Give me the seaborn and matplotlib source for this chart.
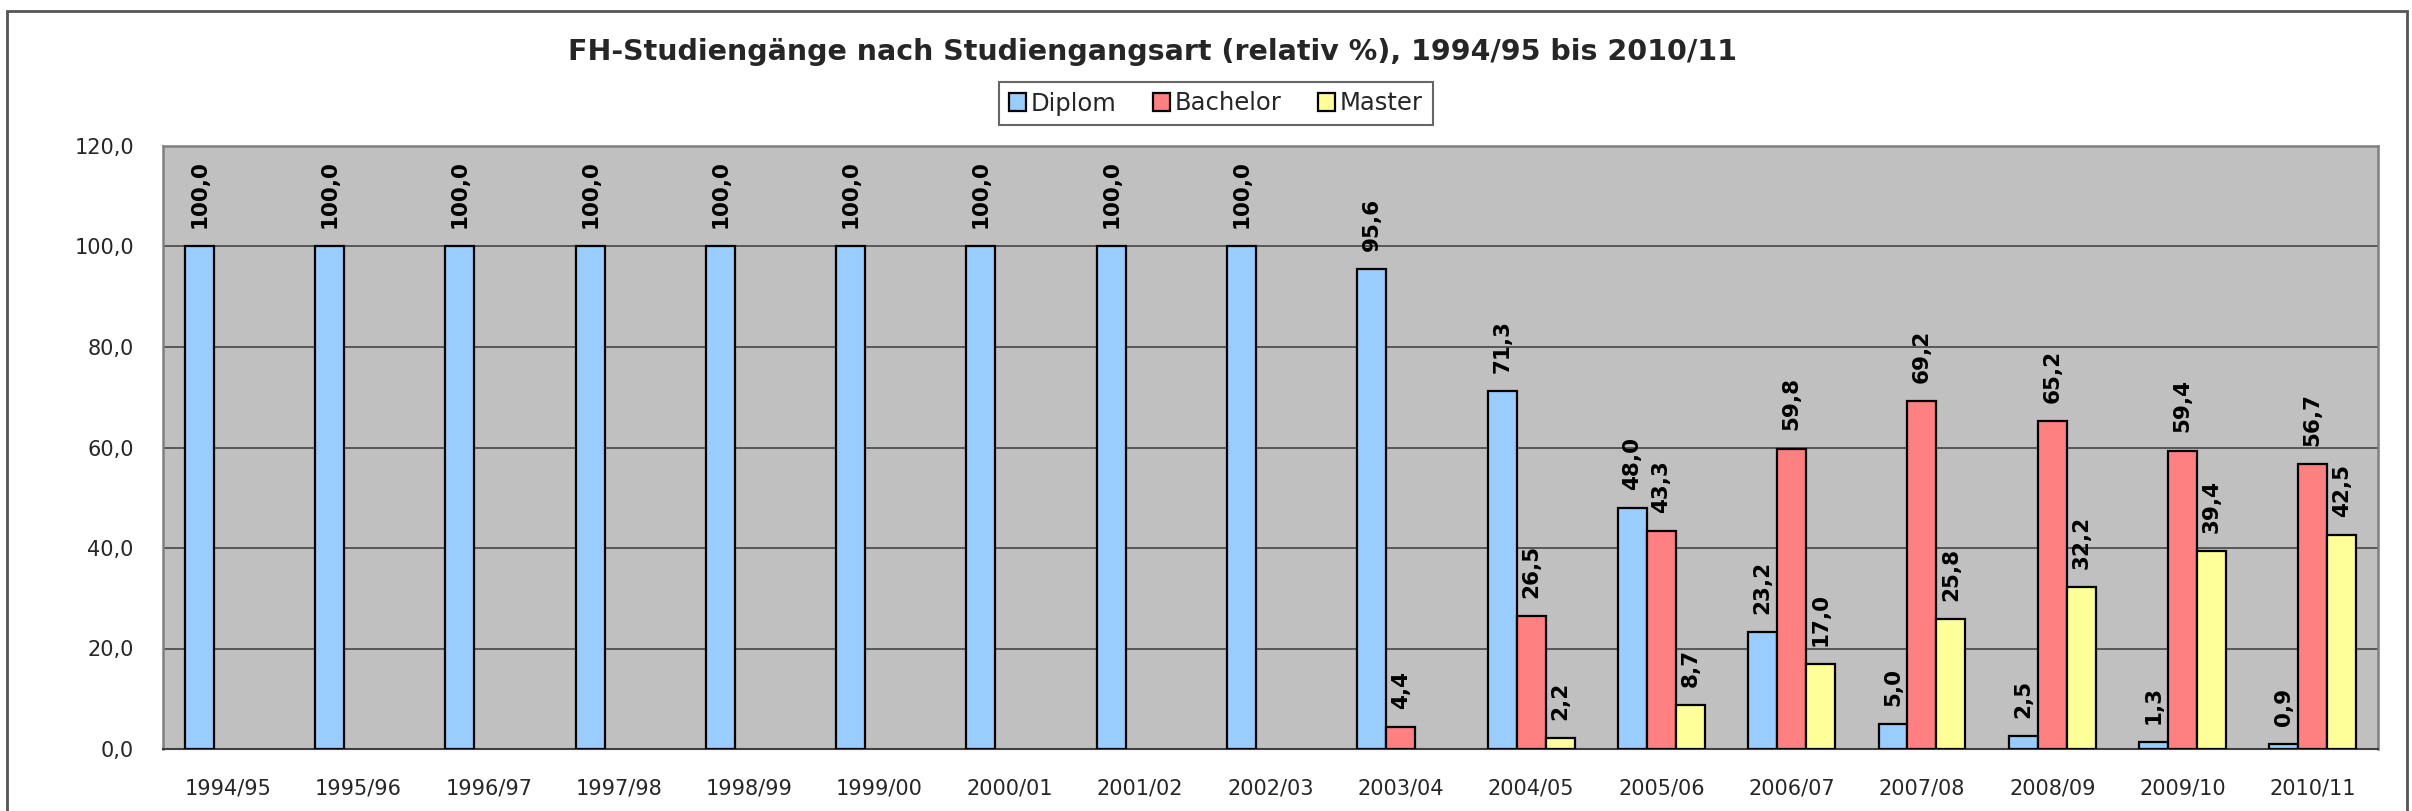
import matplotlib
matplotlib.use('Agg')
import matplotlib.pyplot as plt
from matplotlib.patches import Rectangle
import pandas as pd
import seaborn as sns

years = ['1994/95', '1995/96', '1996/97', '1997/98', '1998/99', '1999/00',
         '2000/01', '2001/02', '2002/03', '2003/04', '2004/05', '2005/06',
         '2006/07', '2007/08', '2008/09', '2009/10', '2010/11']
diplom = [100.0, 100.0, 100.0, 100.0, 100.0, 100.0, 100.0, 100.0, 100.0,
          95.6, 71.3, 48.0, 23.2, 5.0, 2.5, 1.3, 0.9]
bachelor = [0, 0, 0, 0, 0, 0, 0, 0, 0,
            4.4, 26.5, 43.3, 59.8, 69.2, 65.2, 59.4, 56.7]
master = [0, 0, 0, 0, 0, 0, 0, 0, 0,
          0, 2.2, 8.7, 17.0, 25.8, 32.2, 39.4, 42.5]
series = ['Diplom', 'Bachelor', 'Master']
colors = ['#99CCFF', '#FF8080', '#FFFF99']

df = pd.DataFrame({
    'Jahr': years * 3,
    'Art': sum([[s] * len(years) for s in series], []),
    'Wert': diplom + bachelor + master,
})

sns.set_theme(style='white')
plt.rcParams['font.family'] = ['DejaVu Sans']

fig = plt.figure(figsize=(24.12, 8.11), dpi=100)
ax = fig.add_axes([163 / 2412, 1 - 749 / 811, (2378 - 163) / 2412, (749 - 146) / 811])
ax.set_facecolor('#C0C0C0')

sns.barplot(df, x='Jahr', y='Wert', hue='Art', palette=colors, width=2 / 3,
            edgecolor='black', linewidth=1.6, saturation=1, legend=False, ax=ax, zorder=3)

# hide empty bars and label the others
for cont in ax.containers:
    labels = []
    for p in cont:
        h = p.get_height()
        if h <= 0:
            p.set_linewidth(0)
            labels.append('')
        else:
            labels.append(f'{h:.1f}'.replace('.', ','))
    ax.bar_label(cont, labels=labels, rotation=90, padding=13,
                 fontsize=15.5, fontweight='bold', color='black')

ax.set_ylim(0, 120)
ax.set_yticks(range(0, 121, 20))
ax.set_yticklabels([f'{v},0' for v in range(0, 121, 20)])
ax.yaxis.grid(True, color='#505050', linewidth=1.3, zorder=0)
ax.set_axisbelow(True)
ax.set_xlim(-0.5, len(years) - 0.5)
ax.set_xticks(range(len(years)))
ax.set_xticks([i - 0.5 for i in range(len(years) + 1)], minor=True)
ax.tick_params(axis='x', which='major', length=0, pad=21, labelsize=15)
ax.tick_params(axis='x', which='minor', length=6, width=1.3, color='#404040', direction='out')
ax.tick_params(axis='y', length=7, width=1.3, color='#404040', direction='out', pad=14, labelsize=15)
ax.set_xlabel('')
ax.set_ylabel('')
for side in ['top', 'right', 'left']:
    ax.spines[side].set_color('#808080')
    ax.spines[side].set_linewidth(1.8)
ax.spines['bottom'].set_color('#404040')
ax.spines['bottom'].set_linewidth(1.5)

fig.text(1152 / 2412, 1 - 52 / 811, 'FH-Studiengänge nach Studiengangsart (relativ %), 1994/95 bis 2010/11',
         ha='center', va='center', fontsize=20.5, fontweight='bold')

handles = [Rectangle((0, 0), 1, 1, facecolor=c, edgecolor='black', linewidth=1.6) for c in colors]
leg = fig.legend(handles, series, loc='center', bbox_to_anchor=(1216 / 2412, 1 - 103.5 / 811),
                 ncol=3, fontsize=17.5, frameon=True, fancybox=False, handlelength=0.7,
                 handleheight=0.7, handletextpad=0.2, columnspacing=1.5, borderpad=0.4,
                 edgecolor='#404040')
leg.get_frame().set_linewidth(1.5)

# chart frame, cut off at the bottom edge of the image
fig.patches.append(Rectangle((7 / 2412, -0.05), 2400 / 2412, 1.05 - 11 / 811,
                             transform=fig.transFigure, fill=False, edgecolor='#555555',
                             linewidth=2, zorder=-1))

fig.savefig('out.png', dpi=100, facecolor='white')
